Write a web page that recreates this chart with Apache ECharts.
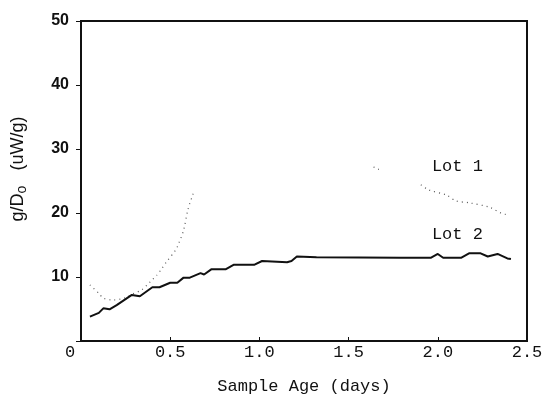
<!DOCTYPE html>
<html>
<head>
<meta charset="utf-8">
<script src="https://cdn.jsdelivr.net/npm/echarts@6/dist/echarts.min.js"></script>
<style>
  html, body { margin: 0; padding: 0; background: #fff; }
  #chart { width: 549px; height: 395px; }
</style>
</head>
<body>
<div id="chart"></div>
<script>
// sample age (days) and heat output
const lot1Age = [0.05, 0.1, 0.125, 0.18, 0.24, 0.285, 0.34, 0.39, 0.425, 0.45, 0.48, 0.53, 0.55, 0.575, 0.6, 0.63,
  null, 1.64, 1.67, null, 1.905, 1.95, 2.05, 2.1, 2.175, 2.29, 2.38, 2.4];
const lot1Val = [8.75, 7.45, 6.7, 6.4, 6.7, 7.3, 8.0, 9.3, 10.3, 11.2, 12.4, 14.2, 15.4, 17.3, 20.6, 23.1,
  null, 27.2, 26.8, null, 24.4, 23.6, 22.8, 21.9, 21.6, 20.9, 19.8, 20.1];

const lot2Age = [0.05, 0.1, 0.125, 0.16, 0.2, 0.285, 0.33, 0.4, 0.44, 0.5, 0.54, 0.575, 0.61, 0.67, 0.69, 0.73,
  0.81, 0.855, 0.97, 1.015, 1.155, 1.18, 1.21, 1.32, 1.79, 1.96, 2.0, 2.03, 2.13, 2.175, 2.24, 2.28, 2.335, 2.39, 2.41];
const lot2Val = [3.8, 4.4, 5.1, 4.95, 5.6, 7.2, 7.0, 8.4, 8.4, 9.1, 9.1, 9.9, 9.9, 10.6, 10.4, 11.2,
  11.2, 11.9, 11.9, 12.5, 12.3, 12.5, 13.2, 13.1, 13.0, 13.0, 13.6, 13.0, 13.0, 13.7, 13.7, 13.2, 13.6, 12.9, 12.8];

const xTicks = [0, 0.5, 1.0, 1.5, 2.0, 2.5];
const yTicks = [0, 10, 20, 30, 40, 50];

const lotLabels = [
  { name: 'Lot 1', coord: [2.11, 27.2] },
  { name: 'Lot 2', coord: [2.11, 16.7] },
];

const pairs = (xs, ys) => xs.map((x, i) => (x == null ? [null, null] : [x, ys[i]]));

const monoFont = '"Liberation Mono", "DejaVu Sans Mono", monospace';
const sansFont = '"Liberation Sans", Arial, sans-serif';

const chart = echarts.init(document.getElementById('chart'), null, { renderer: 'canvas' });

chart.setOption({
  animation: false,
  backgroundColor: '#fff',
  grid: {
    left: 81, right: 22, top: 21, bottom: 54,
    outerBoundsMode: 'none', containLabel: false,
    show: true, borderColor: '#111', borderWidth: 2,
  },
  xAxis: {
    type: 'value',
    min: 0,
    max: 2.5,
    interval: 0.5,
    name: 'Sample Age (days)',
    nameLocation: 'middle',
    nameGap: 37,
    nameTextStyle: { fontFamily: monoFont, fontSize: 17, color: '#111' },
    axisLine: { show: true, onZero: false, lineStyle: { color: '#111', width: 2 } },
    axisTick: { show: true, inside: true, length: 4, lineStyle: { color: '#111' } },
    splitLine: { show: false },
    axisLabel: {
      margin: 3,
      fontFamily: monoFont,
      fontSize: 17,
      color: '#111',
      formatter: (v) => {
        const lbl = xTicks.find((t) => Math.abs(t - v) < 1e-6);
        if (lbl === 0) return '{z|0}';
        return lbl == null ? '' : lbl.toFixed(1);
      },
      rich: { z: { fontFamily: monoFont, fontSize: 17, color: '#111', padding: [0, 22, 0, 0] } },
    },
  },
  yAxis: {
    type: 'value',
    min: 0,
    max: 50,
    interval: 10,
    name: '{n|g/D}{s|o}{n|   (uW/g)}',
    nameLocation: 'middle',
    nameGap: 52,
    nameRotate: 90,
    nameTextStyle: {
      padding: [0, 0, 0, 24],
      rich: {
        n: { fontFamily: sansFont, fontSize: 18, color: '#111' },
        s: { fontFamily: sansFont, fontSize: 14, color: '#111', padding: [8, 0, 0, 0] },
      },
    },
    axisLine: { show: true, lineStyle: { color: '#111', width: 2 } },
    axisTick: { show: true, length: 5, lineStyle: { color: '#111' } },
    splitLine: { show: false },
    axisLabel: {
      margin: 12,
      fontFamily: sansFont,
      fontSize: 16,
      fontWeight: 'bold',
      color: '#111',
      formatter: (v) => (v === 0 || !yTicks.includes(v) ? '' : String(v)),
    },
  },
  series: [
    {
      name: 'Lot 1',
      type: 'line',
      data: pairs(lot1Age, lot1Val),
      showSymbol: false,
      connectNulls: false,
      smooth: 0.3,
      lineStyle: { color: '#555', width: 1.2, type: [1, 4] },
      markPoint: {
        symbol: 'rect',
        symbolSize: 1,
        itemStyle: { color: 'transparent' },
        label: { show: true, fontFamily: monoFont, fontSize: 17, color: '#111', formatter: (p) => p.name },
        data: lotLabels.map((l) => ({ name: l.name, coord: l.coord })),
      },
    },
    {
      name: 'Lot 2',
      type: 'line',
      data: pairs(lot2Age, lot2Val),
      showSymbol: false,
      lineStyle: { color: '#111', width: 2 },
    },
  ],
});
</script>
</body>
</html>
